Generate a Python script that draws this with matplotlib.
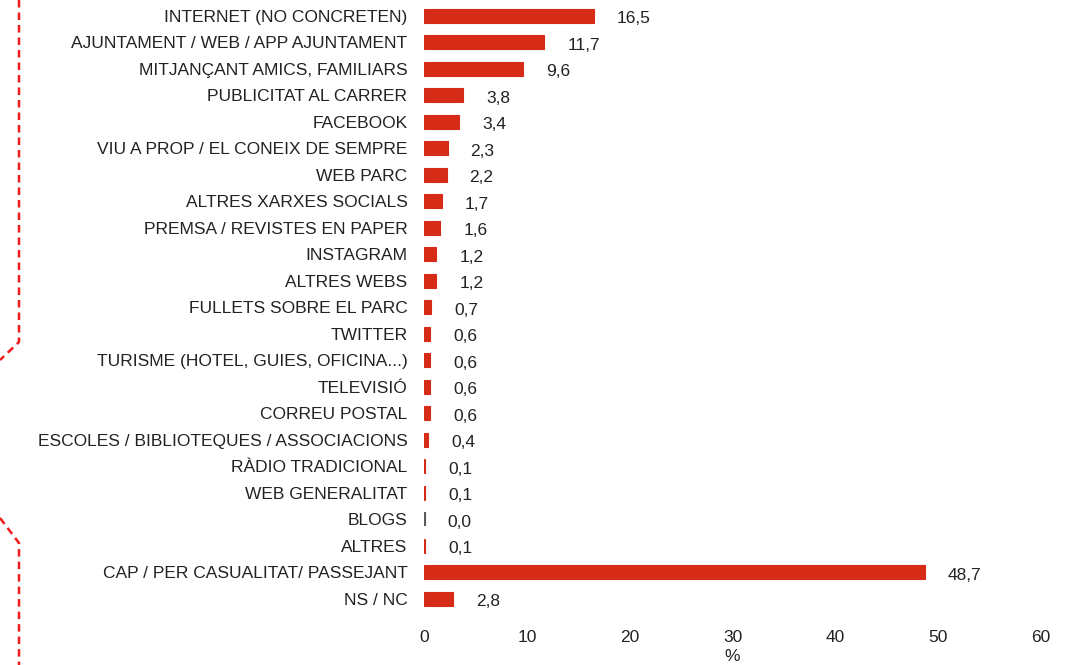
import matplotlib.pyplot as plt
import numpy as np

plt.rcParams["font.family"] = ["Liberation Sans", "DejaVu Sans"]

categories = [
    "INTERNET (NO CONCRETEN)",
    "AJUNTAMENT / WEB / APP AJUNTAMENT",
    "MITJANÇANT AMICS, FAMILIARS",
    "PUBLICITAT AL CARRER",
    "FACEBOOK",
    "VIU A PROP / EL CONEIX DE SEMPRE",
    "WEB PARC",
    "ALTRES XARXES SOCIALS",
    "PREMSA / REVISTES EN PAPER",
    "INSTAGRAM",
    "ALTRES WEBS",
    "FULLETS SOBRE EL PARC",
    "TWITTER",
    "TURISME (HOTEL, GUIES, OFICINA...)",
    "TELEVISIÓ",
    "CORREU POSTAL",
    "ESCOLES / BIBLIOTEQUES / ASSOCIACIONS",
    "RÀDIO TRADICIONAL",
    "WEB GENERALITAT",
    "BLOGS",
    "ALTRES",
    "CAP / PER CASUALITAT/ PASSEJANT",
    "NS / NC",
]
values = [16.5, 11.7, 9.6, 3.8, 3.4, 2.3, 2.2, 1.7, 1.6, 1.2, 1.2, 0.7,
          0.6, 0.6, 0.6, 0.6, 0.4, 0.1, 0.1, 0.0, 0.1, 48.7, 2.8]
x_ticks = [0, 10, 20, 30, 40, 50, 60]

red = "#D52B17"
grey = "#5A5A5A"
text_col = "#222222"
fs = 12.5

fig = plt.figure(figsize=(10.79, 6.65), dpi=100)
ax = fig.add_axes([0.393, 0.0797, 0.5718, 0.9162])

y = np.arange(len(categories))
colors = [grey if v == 0 else red for v in values]
widths = [3.0 if v == 0 else 0.8 for v in values]
ax.barh(y, values, height=0.53, color=colors, edgecolor=colors, linewidth=widths)

for yi, v in zip(y, values):
    ax.annotate(f"{v:.1f}".replace(".", ","), xy=(v, yi), xytext=(16.5, -2),
                textcoords="offset points", ha="left", va="center",
                fontsize=fs, color=text_col)

ax.set_xlim(0, 60)
ax.set_ylim(len(categories) - 0.5, -0.5)
ax.set_yticks(y)
ax.set_yticklabels(categories, fontsize=fs, color=text_col)
ax.set_xticks(x_ticks)
ax.set_xticklabels([str(t) for t in x_ticks], fontsize=fs, color=text_col)
ax.tick_params(length=0)
ax.tick_params(axis="y", pad=12)
ax.tick_params(axis="x", pad=13)
ax.set_xlabel("%", fontsize=fs, color=text_col, labelpad=3)
for s in ax.spines.values():
    s.set_visible(False)

# dashed bracket on the left edge
W, H = 1079, 665
pts1 = [(19, 0), (19, 342), (0, 360)]
pts2 = [(0, 518), (19, 543), (19, 665)]
for pts in (pts1, pts2):
    xs = [p[0] / W for p in pts]
    ys = [1 - p[1] / H for p in pts]
    fig.add_artist(plt.Line2D(xs, ys, transform=fig.transFigure, color="#EE1C1C",
                              linestyle=(0, (3, 2)), linewidth=1.8))

fig.savefig("out.png", dpi=100)
